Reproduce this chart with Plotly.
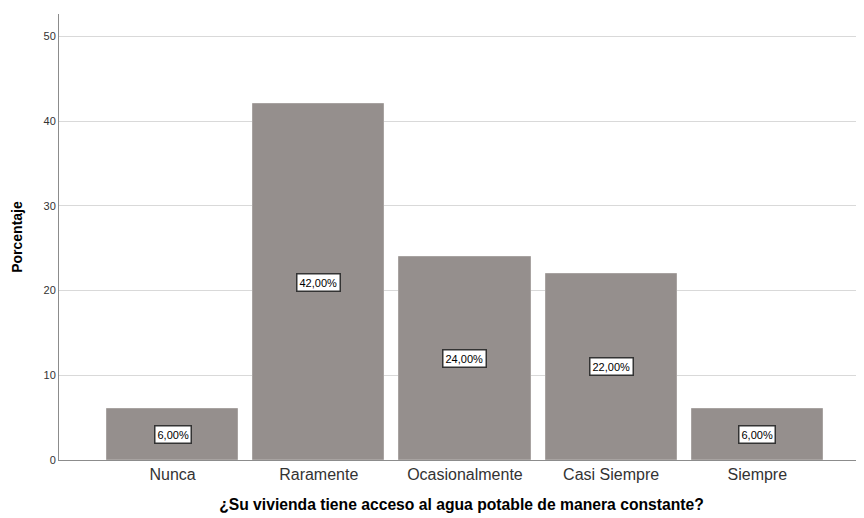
import plotly.graph_objects as go

categories = ["Nunca", "Raramente", "Ocasionalmente", "Casi Siempre", "Siempre"]
values = [6.0, 42.0, 24.0, 22.0, 6.0]
labels = ["6,00%", "42,00%", "24,00%", "22,00%", "6,00%"]
y_ticks = [0, 10, 20, 30, 40, 50]

x_idx = list(range(len(categories)))

fig = go.Figure()
fig.add_trace(go.Bar(
    x=x_idx, y=values, width=0.897,
    marker=dict(color="#958F8D", line=dict(color="#A8A3A1", width=1)),
    hoverinfo="skip", showlegend=False,
))

for i, v, t in zip(x_idx, values, labels):
    fig.add_annotation(
        x=i, y=v / 2, text=t, showarrow=False,
        font=dict(family="Arial, Liberation Sans", size=11, color="#000000"),
        bgcolor="#FFFFFF", bordercolor="#333333", borderwidth=1.5, borderpad=2,
    )

# page body has an 8px margin: compensate so the plot area lands where the reference has it
fig.update_layout(
    width=856, height=510,
    margin=dict(l=51, r=0, t=6, b=58),
    paper_bgcolor="white", plot_bgcolor="white",
    font=dict(family="Arial, Liberation Sans", color="#333333"),
    xaxis=dict(
        range=[-0.777, 4.73], tickmode="array", tickvals=x_idx, ticktext=categories,
        tickfont=dict(size=16, color="#333333"), showgrid=False, zeroline=False,
        showline=True, linecolor="#8c8c8c", linewidth=1, ticks="",
        title=dict(text="<b>¿Su vivienda tiene acceso al agua potable de manera constante?</b>",
                   font=dict(size=15.7, color="#000000"), standoff=16),
    ),
    yaxis=dict(
        range=[0, 52.65], tickmode="array", tickvals=y_ticks,
        tickfont=dict(size=11, color="#333333"), showgrid=True, gridcolor="#D9D9D9",
        gridwidth=1, zeroline=False, showline=True, linecolor="#8c8c8c", linewidth=1,
        ticks="", ticklen=0,
        title=dict(text="<b>Porcentaje</b>", font=dict(size=14, color="#000000"), standoff=17),
    ),
    bargap=0,
)

fig.write_html("out.html")
